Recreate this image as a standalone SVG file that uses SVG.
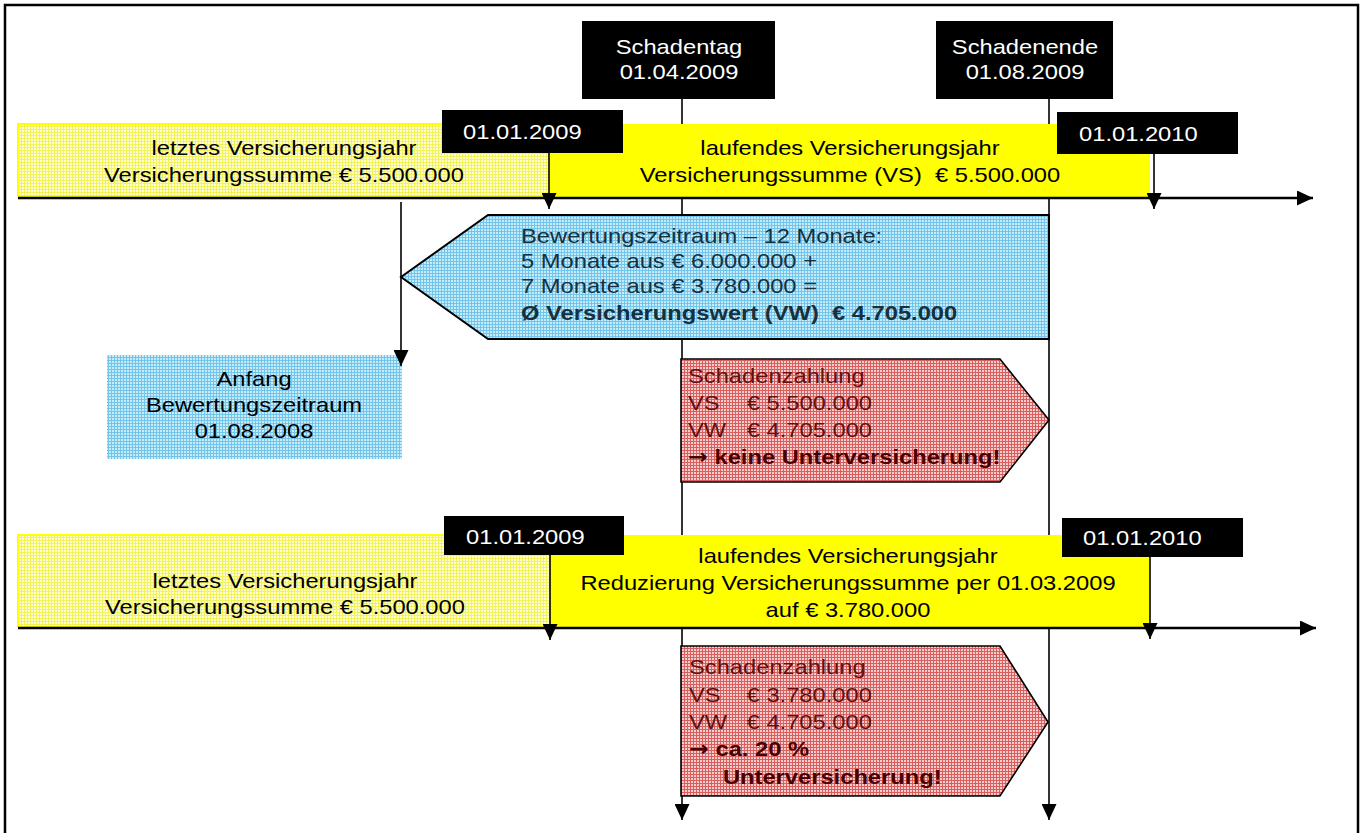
<svg xmlns="http://www.w3.org/2000/svg" width="1366" height="833" viewBox="0 0 1366 833">
<defs>
<style>
.t{font-family:"Liberation Sans",Arial,sans-serif;font-size:21px;fill:#000;white-space:pre}
.w{fill:#fff}
.c{text-anchor:middle}
.bl{fill:#17303e}
.rd{fill:#621010}
.rb{fill:#4a0000;font-weight:bold}
.ar{font-family:"DejaVu Sans",sans-serif;font-weight:bold}
.b{font-weight:bold}
.ln{stroke:#000;stroke-width:1.6;fill:none}
.tl{stroke:#000;stroke-width:2.4;fill:none}
.blk{fill:#000}
.sh{stroke:#000;stroke-width:2}
</style>
<pattern id="py" width="3" height="3" patternUnits="userSpaceOnUse"><rect width="3" height="3" fill="#ffffd2"/><path d="M0,0.5H3M0.5,0V3" stroke="#f2f25a" stroke-width="1"/></pattern>
<pattern id="pb" width="3" height="3" patternUnits="userSpaceOnUse"><rect width="3" height="3" fill="#c6ebf9"/><path d="M0,0.5H3M0.5,0V3" stroke="#72c4ea" stroke-width="1"/></pattern>
<pattern id="pr" width="3" height="3" patternUnits="userSpaceOnUse"><rect width="3" height="3" fill="#f6cdcd"/><path d="M0,0.5H3M0.5,0V3" stroke="#d95f5f" stroke-width="1"/></pattern>
<marker id="ah" markerUnits="userSpaceOnUse" viewBox="0 0 16 15" markerWidth="16" markerHeight="15" refX="16" refY="7.5" orient="auto"><path d="M0,0 L16,7.5 L0,15 z" fill="#000"/></marker>
</defs>
<rect x="0" y="0" width="1366" height="833" fill="#fff"/>
<rect id="frame" x="5" y="5" width="1353" height="900" fill="none" stroke="#000" stroke-width="2.5"/>

<g id="connectors-back">
<path class="ln" d="M682,99V820" marker-end="url(#ah)"/>
<path class="ln" d="M1049,99V820" marker-end="url(#ah)"/>
</g>

<g id="row1-last-year">
<rect x="18" y="124" width="545" height="73" fill="url(#py)" stroke="#ffff00" stroke-width="2"/>
<text class="t c" transform="translate(284,155) scale(1.13,1)"><tspan x="0" y="0">letztes Versicherungsjahr</tspan><tspan x="0" y="27">Versicherungssumme € 5.500.000</tspan></text>
</g>
<g id="row1-current-year">
<rect x="549" y="124" width="601" height="73" fill="#ffff00"/>
<text class="t c" transform="translate(850,155) scale(1.13,1)"><tspan x="0" y="0">laufendes Versicherungsjahr</tspan><tspan x="0" y="27">Versicherungssumme (VS)  € 5.500.000</tspan></text>
</g>
<g id="row1-date-2009">
<rect class="blk" x="442" y="110" width="181" height="43"/>
<text class="t w" transform="translate(463,139) scale(1.13,1)">01.01.2009</text>
</g>
<g id="row1-date-2010">
<rect class="blk" x="1057" y="112" width="181" height="42"/>
<text class="t w" transform="translate(1079,141) scale(1.13,1)">01.01.2010</text>
</g>
<g id="schadentag">
<rect class="blk" x="582" y="21" width="193" height="78"/>
<text class="t w c" transform="translate(679,54) scale(1.13,1)"><tspan x="0" y="0">Schadentag</tspan><tspan x="0" y="25">01.04.2009</tspan></text>
</g>
<g id="schadenende">
<rect class="blk" x="936" y="21" width="177" height="78"/>
<text class="t w c" transform="translate(1025,54) scale(1.13,1)"><tspan x="0" y="0">Schadenende</tspan><tspan x="0" y="25">01.08.2009</tspan></text>
</g>
<g id="bewertungszeitraum">
<path d="M401,277 L488,215 H1049 V339 H488 Z" fill="url(#pb)" class="sh"/>
<text class="t bl" transform="translate(521,243) scale(1.13,1)"><tspan x="0" y="0">Bewertungszeitraum – 12 Monate:</tspan><tspan x="0" y="25">5 Monate aus € 6.000.000 +</tspan><tspan x="0" y="50">7 Monate aus € 3.780.000 =</tspan><tspan x="0" y="77" class="b">Ø Versicherungswert (VW)  € 4.705.000</tspan></text>
</g>
<g id="anfang">
<rect x="107" y="355" width="295" height="104" fill="url(#pb)"/>
<text class="t c" transform="translate(254,386) scale(1.13,1)"><tspan x="0" y="0">Anfang</tspan><tspan x="0" y="26">Bewertungszeitraum</tspan><tspan x="0" y="52">01.08.2008</tspan></text>
</g>
<g id="schadenzahlung1">
<path d="M681,359 H1000 L1049,420 L1000,482 H681 Z" fill="url(#pr)" stroke="#000" stroke-width="1.6"/>
<text class="t rd" transform="translate(688,383) scale(1.13,1)"><tspan x="0" y="0">Schadenzahlung</tspan><tspan x="0" y="27">VS</tspan><tspan x="52" y="27">€ 5.500.000</tspan><tspan x="0" y="54">VW</tspan><tspan x="52" y="54">€ 4.705.000</tspan><tspan x="0" y="81" class="rb ar">→</tspan><tspan class="rb"> keine Unterversicherung!</tspan></text>
</g>

<g id="row2-last-year">
<rect x="18" y="535" width="545" height="92" fill="url(#py)" stroke="#ffff00" stroke-width="2"/>
<text class="t c" transform="translate(285,588) scale(1.13,1)"><tspan x="0" y="0">letztes Versicherungsjahr</tspan><tspan x="0" y="26">Versicherungssumme € 5.500.000</tspan></text>
</g>
<g id="row2-current-year">
<rect x="550" y="535" width="599" height="92" fill="#ffff00"/>
<text class="t c" transform="translate(848,563) scale(1.13,1)"><tspan x="0" y="0">laufendes Versicherungsjahr</tspan><tspan x="0" y="27">Reduzierung Versicherungssumme per 01.03.2009</tspan><tspan x="0" y="54">auf € 3.780.000</tspan></text>
</g>
<g id="row2-date-2009">
<rect class="blk" x="444" y="516" width="180" height="39"/>
<text class="t w" transform="translate(466,544) scale(1.13,1)">01.01.2009</text>
</g>
<g id="row2-date-2010">
<rect class="blk" x="1062" y="518" width="181" height="39"/>
<text class="t w" transform="translate(1083,545) scale(1.13,1)">01.01.2010</text>
</g>
<g id="schadenzahlung2">
<path d="M681,646 H1000 L1048,722 L1000,796 H681 Z" fill="url(#pr)" stroke="#000" stroke-width="1.6"/>
<text class="t rd" transform="translate(689,674) scale(1.13,1)"><tspan x="0" y="0">Schadenzahlung</tspan><tspan x="0" y="28">VS</tspan><tspan x="51" y="28">€ 3.780.000</tspan><tspan x="0" y="55">VW</tspan><tspan x="51" y="55">€ 4.705.000</tspan><tspan x="0" y="82" class="rb ar">→</tspan><tspan class="rb"> ca. 20 %</tspan><tspan x="30" y="110" class="rb">Unterversicherung!</tspan></text>
</g>

<g id="connectors">
<path class="tl" d="M18,198H1313" marker-end="url(#ah)"/>
<path class="ln" d="M549,153V209" marker-end="url(#ah)"/>
<path class="ln" d="M1154,154V209" marker-end="url(#ah)"/>
<path class="ln" d="M401,202V366" marker-end="url(#ah)"/>
<path class="tl" d="M18,628H1316" marker-end="url(#ah)"/>
<path class="ln" d="M550,555V640" marker-end="url(#ah)"/>
<path class="ln" d="M1150,557V639" marker-end="url(#ah)"/>
</g>
</svg>
